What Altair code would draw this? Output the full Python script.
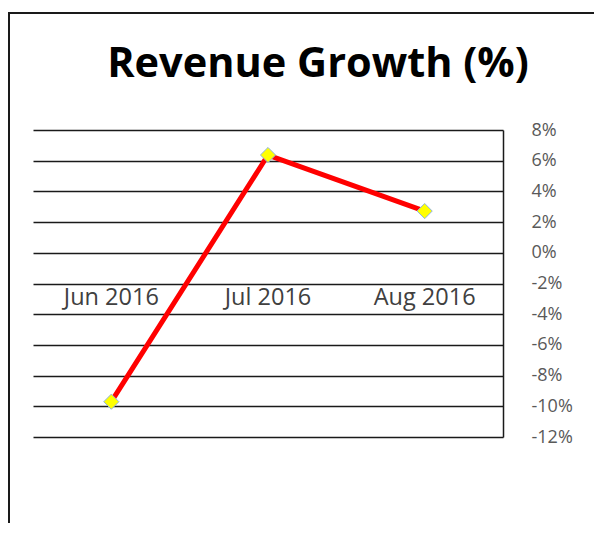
import altair as alt
import pandas as pd

months = ["Jun 2016", "Jul 2016", "Aug 2016"]
growth = [-0.097, 0.0637, 0.0272]
y_ticks = [0.08, 0.06, 0.04, 0.02, 0.0, -0.02, -0.04, -0.06, -0.08, -0.10, -0.12]

df = pd.DataFrame({"month": months, "growth": growth})

y_scale = alt.Scale(domain=[-0.12, 0.08], nice=False, zero=False)
y_axis = alt.Axis(
    orient="right", values=y_ticks, format=".0%", grid=True, ticks=False,
    domain=True, domainColor="#1a1a1a", domainWidth=1.5,
    gridColor="#1a1a1a", gridWidth=1.5,
    labelFont="Open Sans", labelFontSize=18, labelColor="#595959",
    labelPadding=28, labelBaseline="middle", labelOverlap=False,
    labelExpr="replace(datum.label, '\u2212', '-')", title=None,
)
x_enc = alt.X("month:N", sort=months, scale=alt.Scale(type="point", padding=0.5), axis=None)
y_enc = alt.Y("growth:Q", scale=y_scale, axis=y_axis)

base = alt.Chart(df)

frame = alt.Chart(alt.Data(values=[{}])).mark_rect(
    fill="transparent", stroke="#1a1a1a", strokeWidth=2, clip=False
).encode(x=alt.value(-24), x2=alt.value(580), y=alt.value(-117), y2=alt.value(430))

line = base.mark_line(color="#FF0000", strokeWidth=5, strokeJoin="round").encode(x=x_enc, y=y_enc)

points = base.mark_point(
    shape="diamond", filled=True, fill="#FFFF00", stroke="#8DB3E2",
    strokeWidth=1, size=230, opacity=1
).encode(x=x_enc, y=y_enc)

labels = base.mark_text(
    font="Open Sans", fontSize=23.5, color="#404040", baseline="middle", align="center"
).encode(x=x_enc, y=alt.YDatum(-0.0294, scale=y_scale, axis=y_axis), text="month:N")

chart = alt.layer(frame, line, points, labels).properties(
    width=470,
    height=307,
    autosize=alt.AutoSizeParams(type="none"),
    padding={"left": 25, "top": 122, "right": 91, "bottom": 86},
    background="white",
    title=alt.TitleParams(
        "Revenue Growth (%)", font="Open Sans", fontSize=41.5, fontWeight="bold",
        color="#000000", anchor="middle", frame="group", dx=50, offset=-106,
        baseline="alphabetic",
    ),
).configure_view(stroke=None)

chart.save("out.html", embed_options={"renderer": "svg", "actions": False})
